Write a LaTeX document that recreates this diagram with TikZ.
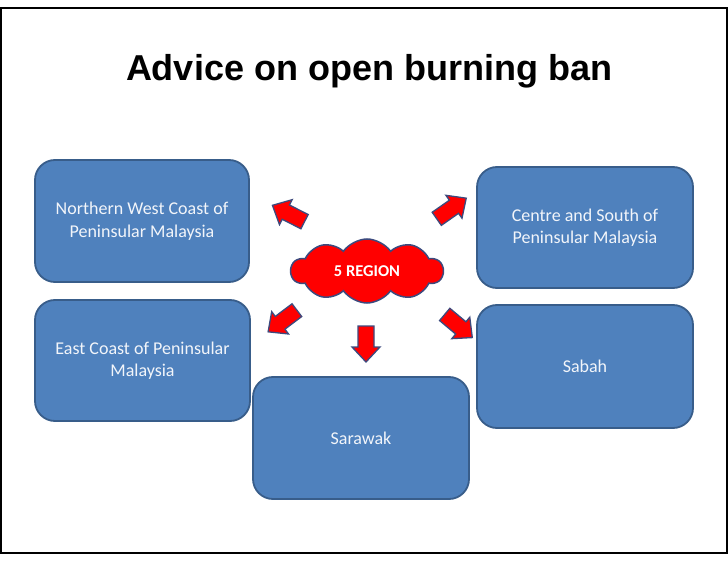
\documentclass[tikz,border=0pt]{standalone}
\usepackage{fontspec}
\setmainfont{Carlito}
\newfontfamily\titlefont{Liberation Sans}
\usetikzlibrary{shapes.symbols}
\definecolor{boxfill}{HTML}{4F81BD}
\definecolor{boxline}{HTML}{385D8A}
\definecolor{arrline}{HTML}{3C4A7E}
\definecolor{boxtext}{HTML}{F2F5FA}
\tikzset{
  region/.style={draw=boxline, line width=1.8pt, fill=boxfill, rounded corners=20pt,
    text=boxtext, align=center, font=\fontsize{18}{22.5}\selectfont, inner sep=0pt},
  barrow/.pic={\draw[draw=arrline, line width=1.3pt, fill=red, line join=miter]
    (-18,-8) -- (3,-8) -- (3,-14) -- (18,0) -- (3,14) -- (3,8) -- (-18,8) -- cycle;}
}
\begin{document}
\begin{tikzpicture}[x=1pt,y=1pt]
\useasboundingbox (0,0) rectangle (728,563);
\fill[white] (0,0) rectangle (728,563);
\draw[line width=1.5pt] (1,10) rectangle (727,555);

\node[font=\titlefont\bfseries\fontsize{36}{40}\selectfont] (title) at (369,492) {Advice on open burning ban};

\node[region, minimum width=214pt, minimum height=122pt] (nw) at (142,342) {Northern West Coast of\\Peninsular Malaysia};
\node[region, minimum width=216pt, minimum height=121pt] (cs) at (585,335.5) {Centre and South of\\Peninsular Malaysia};
\node[region, minimum width=215pt, minimum height=121pt] (ec) at (142.5,202.5) {East Coast of Peninsular\\Malaysia};
\node[region, minimum width=216pt, minimum height=122pt] (sw) at (361,125) {Sarawak};
\node[region, minimum width=216pt, minimum height=123pt] (sb) at (585,196.5) {Sabah};

\node[cloud, cloud puffs=10, cloud puff arc=110, aspect=2.4, minimum width=152pt, minimum height=64pt,
  draw=arrline, line width=1.5pt, fill=red, text=white, inner sep=0pt,
  font=\bfseries\fontsize{16.5}{19}\selectfont] (src) at (367,292) {5 REGION};

\pic[rotate=153] at (288.5,349.5) {barrow};
\pic[rotate=35] at (451.5,354.5) {barrow};
\pic[rotate=217] at (282.5,242) {barrow};
\pic[rotate=270] at (366,219) {barrow};
\pic[rotate=-40] at (458.5,237) {barrow};
\end{tikzpicture}
\end{document}
